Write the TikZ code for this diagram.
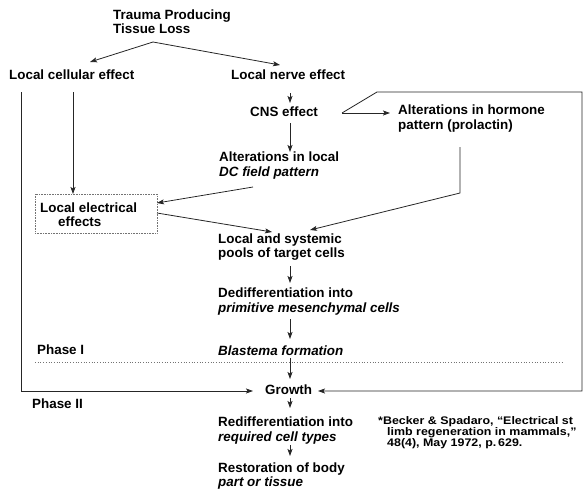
\documentclass[tikz,border=0pt]{standalone}
\usepackage{fontspec}
\setmainfont{Liberation Sans}
\newfontfamily\citefont[FakeStretch=1.13]{Liberation Sans}
\usetikzlibrary{arrows.meta,calc}
\begin{document}
\begin{tikzpicture}[x=1pt,y=-1pt,
  txt/.style={font=\fontsize{13.4}{14.5}\selectfont\bfseries, inner sep=0pt, anchor=west, align=left},
  arr/.style={-{Stealth[length=7pt,width=5pt,inset=1.5pt]}, line width=0.8pt, black!85},
  ln/.style={line width=0.8pt, black!85},
  dotline/.style={dotted, line width=0.7pt, black!55}]
\useasboundingbox (0,0) rectangle (583,490);

% text nodes
\node[txt] (trauma) at (113,21.5) {Trauma Producing\\Tissue Loss};
\node[txt] (lce) at (9,75) {Local cellular effect};
\node[txt] (lne) at (231,75) {Local nerve effect};
\node[txt] (cns) at (250,112) {CNS effect};
\node[txt] (dc) at (219,165.5) {Alterations in local\\{\itshape DC field pattern}};
\node[txt] (horm) at (398,118.5) {Alterations in hormone\\pattern (prolactin)};
\node[draw=black!55, densely dotted, line width=0.6pt, minimum width=122pt, minimum height=39pt, inner sep=0pt] (leebox) at (96,213.5) {};
\node[txt] (lee) at (40,214.5) {Local electrical\\\hspace*{18pt}effects};
\node[txt] (pools) at (218,247) {Local and systemic\\pools of target cells};
\node[txt] (dediff) at (218,301.5) {Dedifferentiation into\\{\itshape primitive mesenchymal cells}};
\node[txt] (blast) at (218,351) {\itshape Blastema formation};
\node[txt] (ph1) at (37,350) {Phase I};
\node[txt] (growth) at (265,390) {Growth};
\node[txt] (ph2) at (32,404) {Phase II};
\node[txt] (rediff) at (218,430.5) {Redifferentiation into\\{\itshape required cell types}};
\node[txt] (rest) at (218,476) {Restoration of body\\{\itshape part or tissue}};
\node[anchor=west, inner sep=0pt, align=left, font=\citefont\fontsize{11}{10}\selectfont\bfseries] (cite) at (378,432.5)
  {*Becker \& Spadaro, “Electrical st\\\hspace*{9pt}limb regeneration in mammals,”\\\hspace*{9pt}48(4), May 1972, p.\,629.};

% routing coordinates
\coordinate (tsplit) at (153,42);
\coordinate (lceIn) at (90,62);
\coordinate (lneIn) at (280,65);
\coordinate (lneOut) at (290,93);
\coordinate (cnsIn) at (290,103);
\coordinate (cnsOut) at (290,123);
\coordinate (dcIn) at (290,152);
\coordinate (cnsR) at (342,113);
\coordinate (hormIn) at (390,113);
\coordinate (topA) at (377,92);
\coordinate (topB) at (582,92);
\coordinate (rightB) at (582,391);
\coordinate (growthR) at (318,391);
\coordinate (hormOut) at (460,147);
\coordinate (hormBend) at (460,193);
\coordinate (poolsR) at (310,230);
\coordinate (dcOut) at (253,187);
\coordinate (leeR) at (157,203);
\coordinate (leeOut) at (157,213);
\coordinate (poolsL) at (272,232);
\coordinate (lceOut) at (73,92);
\coordinate (leeTop) at (73,194);
\coordinate (leftTop) at (21,92);
\coordinate (leftBot) at (21,391);
\coordinate (growthL) at (253,391);
\coordinate (poolsOut) at (290,266);
\coordinate (dediffIn) at (290,283);
\coordinate (dediffOut) at (290,319);
\coordinate (blastIn) at (290,339);
\coordinate (blastOut) at (290,358);
\coordinate (growthIn) at (290,379);
\coordinate (growthOut) at (290,398);
\coordinate (rediffIn) at (290,408);
\coordinate (rediffOut) at (290,445);
\coordinate (restIn) at (290,456);
\coordinate (phaseL) at (35,362);
\coordinate (phaseR) at (563,362);

% connectors
\draw[arr] (tsplit) -- (lceIn);
\draw[arr] (tsplit) -- (lneIn);
\draw[arr] (lneOut) -- (cnsIn);
\draw[arr] (cnsOut) -- (dcIn);
\draw[arr] (cnsR) -- (hormIn);
\draw[arr] (cnsR) -- (topA) -- (topB) -- (rightB) -- (growthR);
\draw[arr] (hormOut) -- (hormBend) -- (poolsR);
\draw[arr] (dcOut) -- (leeR);
\draw[arr] (leeOut) -- (poolsL);
\draw[arr] (lceOut) -- (leeTop);
\draw[arr] (leftTop) -- (leftBot) -- (growthL);
\draw[arr] (poolsOut) -- (dediffIn);
\draw[arr] (dediffOut) -- (blastIn);
\draw[arr] (blastOut) -- (growthIn);
\draw[arr] (growthOut) -- (rediffIn);
\draw[arr] (rediffOut) -- (restIn);
\draw[dotline] (phaseL) -- (phaseR);
\end{tikzpicture}
\end{document}
